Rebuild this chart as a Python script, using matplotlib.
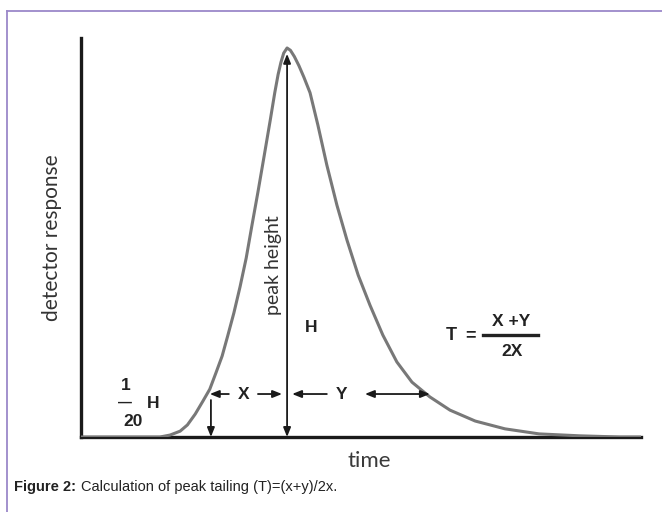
import matplotlib.pyplot as plt
from matplotlib.lines import Line2D

# peak trace (time in % of axis, response relative to H)
time = [0, 14.1, 15.9, 17.7, 19.0, 20.4, 21.8, 23.0, 24.1, 25.2, 26.2, 27.3,
        28.4, 29.5, 30.5, 31.6, 32.7, 33.8, 34.6, 35.2, 35.7, 36.2, 36.8,
        37.4, 38.1, 38.9, 39.8, 40.9, 42.3, 43.9, 45.7, 47.5, 49.5, 51.6,
        53.9, 56.4, 59.1, 62.3, 65.9, 70.4, 75.7, 81.8, 89.1, 96.2, 100]
response = [0, 0, 0.005, 0.015, 0.031, 0.059, 0.093, 0.123, 0.165, 0.208,
            0.260, 0.319, 0.386, 0.460, 0.542, 0.630, 0.722, 0.815, 0.885,
            0.932, 0.963, 0.987, 1.0,
            0.994, 0.978, 0.955, 0.925, 0.885, 0.802, 0.699, 0.596, 0.506,
            0.416, 0.339, 0.262, 0.193, 0.141, 0.103, 0.069, 0.041, 0.021,
            0.008, 0.003, 0.0, 0.0]

PEAK_T   = 36.8
PEAK_H   = 0.985
LEFT_T   = 23.0     # front edge at the marked height
RIGHT_T  = 62.3     # tail edge at the marked height
LEVEL    = 0.1105   # "1/20 H" level
W, H_PX  = 662, 512

LINE_COL  = "#1a1a1a"
CURVE_COL = "#787878"
BORDER    = "#9b88c9"


def fpx(x, y):
    # pixel (from top-left) -> figure fraction
    return x / W, 1 - y / H_PX


fig = plt.figure(figsize=(6.62, 5.12), dpi=100)
ax = fig.add_axes([81 / W, 75 / H_PX, 560 / W, 399 / H_PX])
ax.set_xlim(0, 100)
ax.set_ylim(0, 399 / 389)
for s in ("top", "right"):
    ax.spines[s].set_visible(False)
for s in ("left", "bottom"):
    ax.spines[s].set_linewidth(2.4)
    ax.spines[s].set_color(LINE_COL)
ax.set_xticks([])
ax.set_yticks([])

ax.plot(time, response, color=CURVE_COL, lw=2.2, solid_joinstyle="round", zorder=3)

head = dict(color=LINE_COL, lw=1.3, shrinkA=0, shrinkB=0,
            arrowstyle="-|>,head_length=0.55,head_width=0.22")
dbl = dict(head, arrowstyle="<|-|>,head_length=0.55,head_width=0.22")

# peak height arrow
ax.annotate("", xy=(PEAK_T, PEAK_H), xytext=(PEAK_T, 0.0), arrowprops=dbl)
# small drop at front edge
ax.annotate("", xy=(LEFT_T + 0.2, 0.0), xytext=(LEFT_T + 0.2, 0.095), arrowprops=head)
# X segments
ax.annotate("", xy=(LEFT_T, LEVEL), xytext=(26.4, LEVEL), arrowprops=head)
ax.annotate("", xy=(PEAK_T - 0.9, LEVEL), xytext=(31.6, LEVEL), arrowprops=head)
# Y segments
ax.annotate("", xy=(PEAK_T + 0.9, LEVEL), xytext=(43.9, LEVEL), arrowprops=head)
ax.annotate("", xy=(RIGHT_T, LEVEL), xytext=(50.7, LEVEL), arrowprops=dbl)

bold = dict(fontfamily="Liberation Sans", fontweight="bold", color="#222222",
            ha="center", va="center")
ax.text(29.1, LEVEL, "X", fontsize=12.5, **bold)
ax.text(46.5, LEVEL, "Y", fontsize=12.5, **bold)

ax.set_ylabel("detector response", fontfamily="Lato", fontsize=15,
              color="#333333", labelpad=14)

# annotations placed in figure pixels
fig.text(*fpx(369, 461), "time", fontfamily="Lato", fontsize=16,
         color="#3a3a3a", ha="center", va="center")
fig.text(*fpx(273, 265), "peak height", rotation=90, fontfamily="Lato",
         fontsize=14, color="#333333", ha="center", va="center")
fig.text(*fpx(311, 327), "H", fontsize=12.5, **bold)
fig.text(*fpx(126, 385), "1", fontsize=12.5, **bold)
fig.text(*fpx(125, 403), "\u2014", fontsize=10, **bold)
fig.text(*fpx(153, 403), "H", fontsize=12.5, **bold)
fig.text(*fpx(133, 422), "20", fontsize=12.5, **bold)

fig.text(*fpx(451, 335), "T", fontsize=13, **bold)
fig.text(*fpx(471, 336), "=", fontsize=13, **bold)
fig.text(*fpx(511, 322), "X +Y", fontsize=12.5, **bold)
fig.text(*fpx(512, 352), "2X", fontsize=12.5, **bold)
x0, y0 = fpx(483, 335)
x1, _ = fpx(538, 335)
fig.add_artist(Line2D([x0, x1], [y0, y0], color="#222222", lw=2.4))

# caption
fig.text(*fpx(14, 487), "Figure 2:", fontfamily="Liberation Sans",
         fontweight="bold", fontsize=10.5, color="#222222", va="center")
fig.text(*fpx(81, 487), "Calculation of peak tailing (T)=(x+y)/2x.",
         fontfamily="Liberation Sans", fontsize=10.5, color="#222222", va="center")

# outer frame (top and left edges only visible)
bx, by = fpx(7, 11)
fig.add_artist(Line2D([bx, 1.0], [by, by], color=BORDER, lw=1.3))
fig.add_artist(Line2D([bx, bx], [0.0, by], color=BORDER, lw=1.3))

fig.savefig("out.png", dpi=100)
